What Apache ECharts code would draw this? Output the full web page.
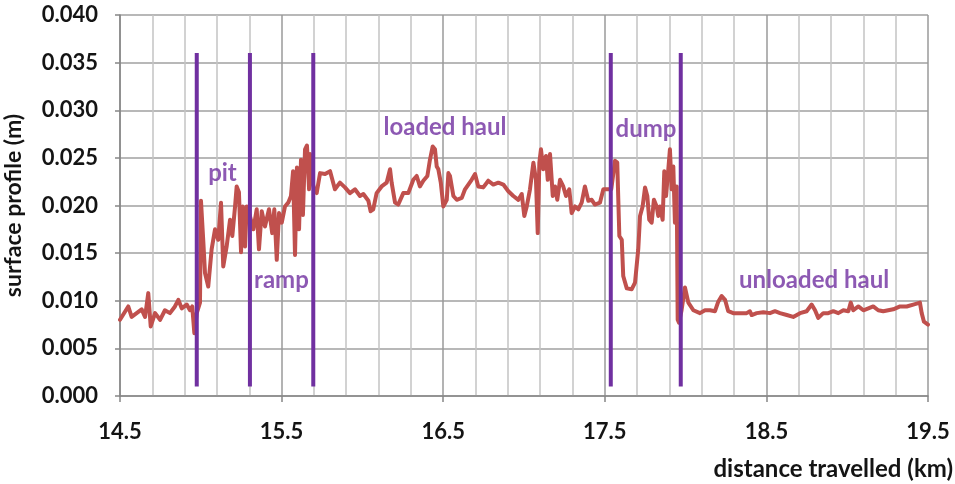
<!DOCTYPE html>
<html>
<head>
<meta charset="utf-8">
<script src="https://cdn.jsdelivr.net/npm/echarts@6/dist/echarts.min.js"></script>
<style>
  html, body { margin: 0; padding: 0; background: #ffffff; }
  #chart { width: 955px; height: 484px; }
</style>
</head>
<body>
<div id="chart"></div>
<script>
// Distance axis starts at this value (km); the axis is drawn as an offset from it
const X_ORIGIN = 14.5;
const X_SPAN = 5;

// Surface profile along the haul cycle
const distanceKm = [
  14.500, 14.511, 14.551, 14.572, 14.603, 14.634, 14.655, 14.675, 14.690, 14.717,
  14.748, 14.778, 14.809, 14.840, 14.861, 14.882, 14.913, 14.933, 14.947, 14.960,
  14.975, 14.995, 15.001, 15.015, 15.026, 15.046, 15.067, 15.088, 15.108, 15.125,
  15.139, 15.160, 15.181, 15.195, 15.212, 15.222, 15.236, 15.249, 15.259, 15.274,
  15.284, 15.304, 15.325, 15.346, 15.360, 15.377, 15.397, 15.422, 15.442, 15.455,
  15.470, 15.484, 15.501, 15.521, 15.541, 15.558, 15.571, 15.583, 15.595, 15.608,
  15.620, 15.632, 15.645, 15.657, 15.670, 15.676, 15.688, 15.700, 15.717, 15.738,
  15.769, 15.800, 15.830, 15.861, 15.892, 15.923, 15.954, 15.985, 16.006, 16.037,
  16.051, 16.067, 16.088, 16.119, 16.150, 16.171, 16.181, 16.202, 16.222, 16.253,
  16.284, 16.315, 16.336, 16.356, 16.377, 16.402, 16.418, 16.435, 16.449, 16.460,
  16.470, 16.485, 16.501, 16.522, 16.532, 16.542, 16.563, 16.584, 16.615, 16.635,
  16.676, 16.697, 16.717, 16.748, 16.779, 16.810, 16.841, 16.872, 16.903, 16.934,
  16.965, 16.986, 17.002, 17.017, 17.037, 17.058, 17.074, 17.085, 17.095, 17.105,
  17.119, 17.136, 17.147, 17.161, 17.178, 17.192, 17.206, 17.223, 17.243, 17.260,
  17.280, 17.295, 17.316, 17.336, 17.357, 17.377, 17.398, 17.419, 17.439, 17.470,
  17.491, 17.512, 17.540, 17.563, 17.577, 17.590, 17.605, 17.614, 17.636, 17.666,
  17.687, 17.707, 17.718, 17.734, 17.749, 17.763, 17.775, 17.790, 17.804, 17.821,
  17.831, 17.841, 17.858, 17.868, 17.879, 17.893, 17.903, 17.914, 17.924, 17.934,
  17.945, 17.951, 17.959, 17.975, 17.996, 18.017, 18.027, 18.048, 18.089, 18.120,
  18.151, 18.182, 18.202, 18.223, 18.244, 18.264, 18.295, 18.337, 18.378, 18.398,
  18.409, 18.440, 18.481, 18.522, 18.553, 18.584, 18.626, 18.666, 18.708, 18.749,
  18.780, 18.801, 18.821, 18.852, 18.883, 18.914, 18.945, 18.976, 19.007, 19.022,
  19.038, 19.069, 19.100, 19.131, 19.161, 19.192, 19.223, 19.254, 19.285, 19.327,
  19.368, 19.409, 19.450, 19.461, 19.475, 19.500
];
const profileM = [
  0.0080, 0.0078, 0.0094, 0.0083, 0.0087, 0.0091, 0.0083, 0.0108, 0.0073, 0.0087,
  0.0080, 0.0090, 0.0087, 0.0094, 0.0101, 0.0092, 0.0096, 0.0090, 0.0094, 0.0066,
  0.0087, 0.0098, 0.0205, 0.0164, 0.0129, 0.0115, 0.0154, 0.0175, 0.0164, 0.0203,
  0.0136, 0.0157, 0.0185, 0.0168, 0.0199, 0.0220, 0.0214, 0.0151, 0.0199, 0.0157,
  0.0199, 0.0189, 0.0175, 0.0196, 0.0154, 0.0194, 0.0178, 0.0196, 0.0171, 0.0196,
  0.0143, 0.0192, 0.0182, 0.0199, 0.0203, 0.0210, 0.0236, 0.0148, 0.0240, 0.0175,
  0.0248, 0.0190, 0.0259, 0.0263, 0.0217, 0.0254, 0.0227, 0.0218, 0.0213, 0.0234,
  0.0233, 0.0236, 0.0217, 0.0224, 0.0219, 0.0213, 0.0217, 0.0210, 0.0212, 0.0205,
  0.0194, 0.0196, 0.0213, 0.0220, 0.0224, 0.0238, 0.0224, 0.0203, 0.0201, 0.0213,
  0.0213, 0.0227, 0.0231, 0.0220, 0.0226, 0.0231, 0.0248, 0.0262, 0.0259, 0.0241,
  0.0238, 0.0224, 0.0199, 0.0206, 0.0234, 0.0231, 0.0210, 0.0206, 0.0208, 0.0217,
  0.0227, 0.0233, 0.0220, 0.0219, 0.0226, 0.0222, 0.0224, 0.0222, 0.0215, 0.0210,
  0.0206, 0.0212, 0.0189, 0.0199, 0.0217, 0.0245, 0.0227, 0.0171, 0.0245, 0.0259,
  0.0238, 0.0252, 0.0227, 0.0254, 0.0210, 0.0220, 0.0206, 0.0227, 0.0220, 0.0210,
  0.0217, 0.0192, 0.0199, 0.0196, 0.0203, 0.0220, 0.0205, 0.0206, 0.0201, 0.0203,
  0.0217, 0.0217, 0.0217, 0.0247, 0.0245, 0.0168, 0.0164, 0.0126, 0.0113, 0.0112,
  0.0119, 0.0154, 0.0189, 0.0199, 0.0219, 0.0210, 0.0185, 0.0182, 0.0206, 0.0199,
  0.0189, 0.0199, 0.0185, 0.0236, 0.0210, 0.0238, 0.0259, 0.0217, 0.0241, 0.0182,
  0.0220, 0.0080, 0.0077, 0.0090, 0.0114, 0.0098, 0.0098, 0.0090, 0.0087, 0.0090,
  0.0090, 0.0089, 0.0099, 0.0105, 0.0101, 0.0089, 0.0087, 0.0087, 0.0087, 0.0089,
  0.0085, 0.0087, 0.0088, 0.0087, 0.0089, 0.0087, 0.0085, 0.0083, 0.0087, 0.0089,
  0.0096, 0.0090, 0.0082, 0.0087, 0.0087, 0.0089, 0.0087, 0.0090, 0.0089, 0.0098,
  0.0090, 0.0094, 0.0090, 0.0092, 0.0094, 0.0090, 0.0089, 0.0090, 0.0091, 0.0094,
  0.0094, 0.0096, 0.0098, 0.0087, 0.0078, 0.0075
];

// Phase boundaries (km) and the vertical extent of their markers (m)
const boundaryKm = [14.975, 15.304, 15.696, 17.537, 17.970];
const boundaryRangeM = [0.001, 0.036];

// Phase names and where each is written
const phaseNames = ['pit', 'ramp', 'loaded haul', 'dump', 'unloaded haul'];
const phaseKm = [15.134, 15.499, 16.511, 17.755, 18.795];
const phaseM = [0.0234, 0.0121, 0.0282, 0.0280, 0.0122];

// Axis settings
const yMin = 0, yMax = 0.040, yStep = 0.005;
const xStep = 1, xMinorSplits = 5;

const profileData = distanceKm.map((d, i) => [d - X_ORIGIN, profileM[i]]);

const boundarySeries = boundaryKm.map((b) => ({
  type: 'line',
  data: boundaryRangeM.map((m) => [b - X_ORIGIN, m]),
  symbol: 'none',
  silent: true,
  z: 4,
  lineStyle: { color: '#7030A0', width: 4, cap: 'butt' }
}));

const labelFont = 'Lato, "Open Sans", sans-serif';

const chart = echarts.init(document.getElementById('chart'), null, { renderer: 'canvas' });
chart.setOption({
  animation: false,
  backgroundColor: '#ffffff',
  grid: { left: 120, right: 27, top: 15, bottom: 88, containLabel: false, outerBoundsMode: 'none' },
  xAxis: {
    type: 'value',
    min: 0,
    max: X_SPAN,
    interval: xStep,
    name: 'distance travelled (km)',
    nameLocation: 'end',
    nameGap: 25,
    nameTextStyle: {
      fontFamily: labelFont, fontWeight: 'bold', fontSize: 24, color: '#141414',
      align: 'right', verticalAlign: 'top', padding: [61, 0, 0, 0]
    },
    axisLine: { show: true, lineStyle: { color: '#868686', width: 1.5 } },
    axisTick: { show: true, length: 6, lineStyle: { color: '#868686', width: 1.5 } },
    axisLabel: {
      margin: 25,
      fontFamily: labelFont, fontWeight: 'bold', fontSize: 22, color: '#141414',
      formatter: (v) => (v + X_ORIGIN).toFixed(1)
    },
    splitLine: { show: true, lineStyle: { color: '#9a9a9a', width: 1.5 } },
    minorTick: { show: false, splitNumber: xMinorSplits },
    minorSplitLine: { show: true, lineStyle: { color: '#c4c4c4', width: 1.5 } }
  },
  yAxis: {
    type: 'value',
    min: yMin,
    max: yMax,
    interval: yStep,
    name: 'surface profile (m)',
    nameLocation: 'middle',
    nameGap: 95,
    nameRotate: 90,
    nameTextStyle: { fontFamily: labelFont, fontWeight: 'bold', fontSize: 23, color: '#141414' },
    axisLine: { show: true, lineStyle: { color: '#868686', width: 1.5 } },
    axisTick: { show: true, length: 5, lineStyle: { color: '#868686', width: 1.5 } },
    axisLabel: {
      margin: 22,
      fontFamily: labelFont, fontWeight: 'bold', fontSize: 22, color: '#141414',
      formatter: (v) => v.toFixed(3)
    },
    splitLine: { show: true, lineStyle: { color: '#a0a0a0', width: 1.5 } }
  },
  series: [
    {
      type: 'line',
      data: profileData,
      symbol: 'none',
      silent: true,
      z: 3,
      lineStyle: { color: '#C0504D', width: 4, join: 'round', cap: 'round' }
    },
    ...boundarySeries,
    {
      type: 'scatter',
      silent: true,
      z: 5,
      symbolSize: 0.1,
      itemStyle: { color: 'rgba(0,0,0,0)' },
      data: phaseNames.map((n, i) => ({ name: n, value: [phaseKm[i] - X_ORIGIN, phaseM[i]] })),
      label: {
        show: true,
        position: 'inside',
        formatter: '{b}',
        fontFamily: labelFont,
        fontWeight: 'bold',
        fontSize: 24,
        color: '#7030A0'
      }
    }
  ]
});
</script>
</body>
</html>
